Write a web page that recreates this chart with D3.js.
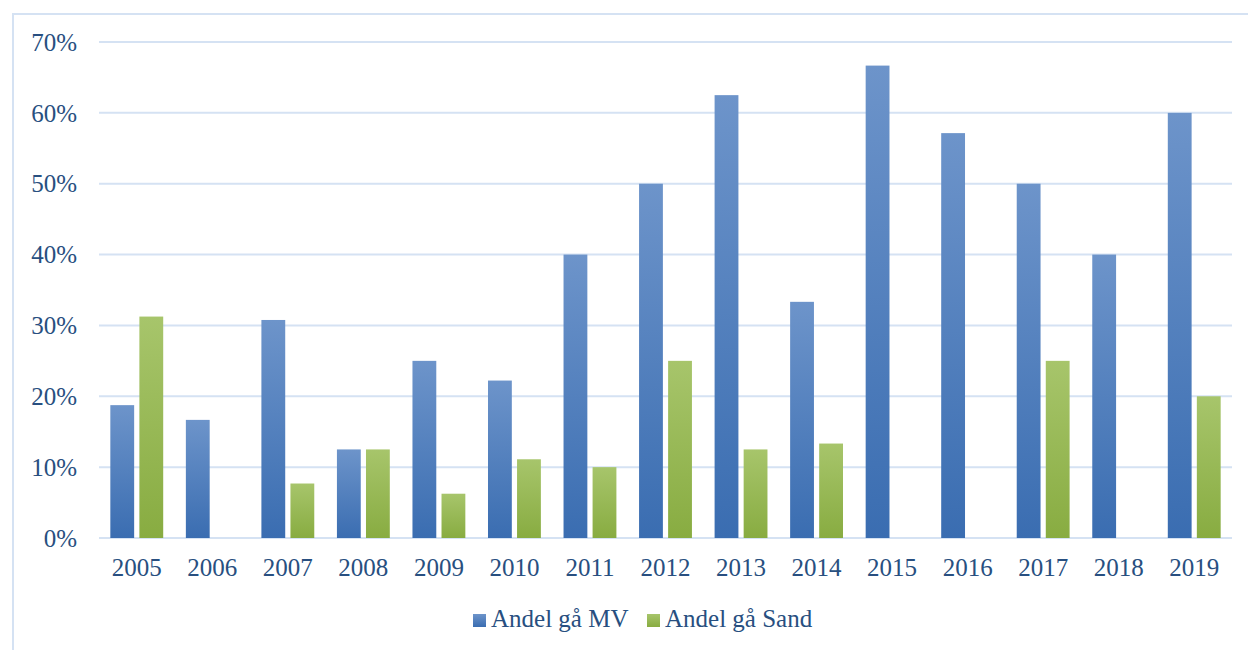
<!DOCTYPE html>
<html><head><meta charset="utf-8">
<script src="https://cdn.jsdelivr.net/npm/d3@7"></script>
<style>body{margin:0;background:#fff}svg{display:block}</style>
</head><body>
<svg id="c" width="1248" height="650"></svg>
<script>
const years = ["2005","2006","2007","2008","2009","2010","2011","2012","2013","2014","2015","2016","2017","2018","2019"];
const seriesNames = ["Andel gå MV","Andel gå Sand"];
const mv =   [0.1875,0.1667,0.3077,0.125,0.25,0.2222,0.40,0.50,0.625,0.3333,0.6667,0.5714,0.50,0.40,0.60];
const sand = [0.3125,0,0.0769,0.125,0.0625,0.1111,0.10,0.25,0.125,0.1333,0,0,0.25,0,0.20];
const yTicks = [0,0.1,0.2,0.3,0.4,0.5,0.6,0.7];

const svg = d3.select("#c");
const font = "'Liberation Serif', serif";
const txt = "#284f80";
const grid = "#d5e2f3";

const defs = svg.append("defs");
function grad(id, top, bot){
  const g = defs.append("linearGradient").attr("id",id).attr("x1",0).attr("x2",0).attr("y1",0).attr("y2",1);
  g.append("stop").attr("offset","0%").attr("stop-color",top);
  g.append("stop").attr("offset","100%").attr("stop-color",bot);
}
grad("gMV","#6d94ca","#3a6db1");
grad("gSand","#a7c56b","#88ac41");
const fills = ["url(#gMV)","url(#gSand)"];
const legendFills = [["#6d94ca","#3a6db1"],["#a7c56b","#88ac41"]];

// frame
svg.append("rect").attr("x",13).attr("y",14).attr("width",1260).attr("height",660)
  .attr("fill","none").attr("stroke",grid).attr("stroke-width",2);

const L=99, R=1232, T=42, B=538;
const x0 = d3.scaleBand().domain(years).range([L,R]).paddingInner(0.3).paddingOuter(0.15);
const x1 = d3.scaleBand().domain(seriesNames).range([0,x0.bandwidth()]).paddingInner(0.18);
const y = d3.scaleLinear().domain([0,0.7]).range([B,T]);

// grid
svg.append("g").selectAll("line").data(yTicks).join("line")
  .attr("x1",L).attr("x2",R).attr("y1",d=>y(d)).attr("y2",d=>y(d))
  .attr("stroke",grid).attr("stroke-width",2);

// y labels
const yAxis = d3.axisLeft(y).tickValues(yTicks).tickFormat(d3.format(".0%")).tickSize(0).tickPadding(22);
const ya = svg.append("g").attr("transform",`translate(${L},0)`).call(yAxis);
ya.select(".domain").remove();
ya.selectAll("text").attr("font-family",font).attr("font-size",25).attr("fill",txt).attr("dy","0.33em");

// bars
const data = years.map((yr,i)=>({yr, vals:[mv[i],sand[i]]}));
const g = svg.append("g").selectAll("g").data(data).join("g")
  .attr("transform",d=>`translate(${x0(d.yr)},0)`);
g.selectAll("rect").data(d=>d.vals.map((v,j)=>({v,s:seriesNames[j],j}))).join("rect")
  .attr("x",d=>x1(d.s)).attr("width",x1.bandwidth())
  .attr("y",d=>y(d.v)).attr("height",d=>y(0)-y(d.v))
  .attr("fill",d=>fills[d.j]);

// x labels
const xAxis = d3.axisBottom(x0).tickSize(0).tickPadding(20);
const xa = svg.append("g").attr("transform",`translate(0,${B})`).call(xAxis);
xa.select(".domain").remove();
xa.selectAll("text").attr("font-family",font).attr("font-size",25).attr("fill",txt).attr("dy","0.71em");

// legend
const leg = svg.append("g");
const lx = [473, 647];
seriesNames.forEach((n,i)=>{
  const lg = defs.append("linearGradient").attr("id","lg"+i).attr("x1",0).attr("x2",0).attr("y1",0).attr("y2",1);
  lg.append("stop").attr("offset","0%").attr("stop-color",legendFills[i][0]);
  lg.append("stop").attr("offset","100%").attr("stop-color",legendFills[i][1]);
  leg.append("rect").attr("x",lx[i]).attr("y",614).attr("width",13).attr("height",13).attr("fill",`url(#lg${i})`);
  leg.append("text").attr("x",lx[i]+18).attr("y",627).attr("font-family",font).attr("font-size",25).attr("fill",txt).text(n);
});
</script>
</body></html>
